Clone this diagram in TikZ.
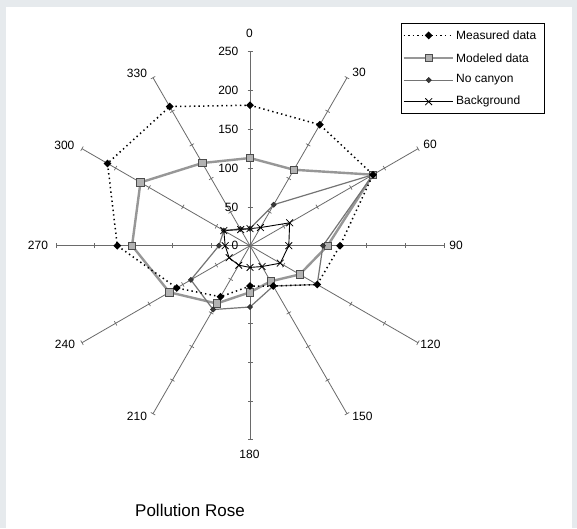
\documentclass[tikz,border=0pt]{standalone}
\usepackage{fontspec}
\setmainfont{Liberation Sans}
\usetikzlibrary{positioning,shapes.geometric,shapes.misc}
\definecolor{framegray}{HTML}{E6EAED}
\definecolor{spokegray}{HTML}{6A6A6A}
\definecolor{modgray}{HTML}{979797}
\definecolor{nocgray}{HTML}{747474}
\tikzset{
  spoke/.style={draw=spokegray, line width=0.8pt},
  tick/.style={draw=spokegray, line width=0.7pt},
  measline/.style={black, line width=1.5pt, dash pattern=on 1.4pt off 3.2pt},
  modline/.style={modgray, line width=2.4pt},
  nocline/.style={nocgray, line width=1.2pt},
  bgline/.style={black, line width=0.9pt},
  meas/.style={diamond, fill=black, inner sep=0pt, minimum size=8pt},
  modl/.style={rectangle, draw=gray!60!black, fill=gray!60, line width=0.6pt, inner sep=0pt, minimum size=7.5pt},
  noc/.style={diamond, draw=gray!30!black, fill=gray!45!black, line width=0.4pt, inner sep=0pt, minimum size=5.5pt},
  bgx/.style={cross out, draw=black, line width=0.8pt, inner sep=0pt, minimum size=6pt},
  lbl/.style={font=\fontsize{12}{14}\selectfont, inner sep=0pt},
}
\def\rs{0.776}
\begin{document}
\begin{tikzpicture}[x=1pt, y=1pt]
    \useasboundingbox (-250,-282.3) rectangle (327,245.7);
    \fill[framegray] (-250,-282.3) rectangle (327,245.7);
    \fill[white] (-244,-282.3) rectangle (321.5,238.7);

    % spokes with ticks every 50
    \coordinate (o) at (0,0);
    \foreach \a in {0,30,...,330} {
        \coordinate (end\a) at ({90-\a}:{250*\rs});
        \draw[spoke] (o) -- (end\a);
        \foreach \t in {50,100,...,250}
            \draw[tick] ({90-\a}:{\t*\rs}) ++({180-\a}:2.5) -- ++({-\a}:5);
    }

    % direction labels
    \foreach \a/\lx/\ly in {0/-0.5/212, 30/109/173, 60/180/101, 90/206/0.7, 120/180.5/-98.3, 150/112.5/-171,
                            180/-0.5/-209, 210/-113/-171, 240/-185/-98.3, 270/-212/0.7, 300/-185.6/100.2, 330/-113/172.7}
        \node[lbl] (dir\a) at (\lx,\ly) {\a};

    % radial scale
    \foreach \v in {0,50,...,250}
        \node[lbl, anchor=east] (val\v) at (-11.5,{\v*\rs}) {\v};

    % data points
    \foreach \a/\r in {0/181,30/180,60/183,90/116,120/100,150/60,180/52,210/76,240/109,270/171,300/212,330/207}
        \coordinate (me\a) at ({90-\a}:{\r*\rs});
    \foreach \a/\r in {0/113,30/113,60/183,90/100,120/74,150/53,180/60,210/86,240/120,270/152,300/163,330/123}
        \coordinate (mo\a) at ({90-\a}:{\r*\rs});
    \foreach \a/\r in {0/22,30/61,60/183,90/94,120/100,150/60,180/79,210/95,240/88,270/40,300/39,330/25}
        \coordinate (nc\a) at ({90-\a}:{\r*\rs});
    \foreach \a/\r in {0/22,30/27,60/59,90/50,120/45,150/31,180/28,210/29,240/31,270/32,300/39,330/24}
        \coordinate (bg\a) at ({90-\a}:{\r*\rs});

    \draw[modline] (mo0) \foreach \a in {30,60,...,330} { -- (mo\a) } -- cycle;
    \draw[nocline] (nc0) \foreach \a in {30,60,...,330} { -- (nc\a) } -- cycle;
    \draw[bgline] (bg0) \foreach \a in {30,60,...,330} { -- (bg\a) } -- cycle;
    \draw[measline] (me0) \foreach \a in {30,60,...,330} { -- (me\a) } -- cycle;

    \foreach \a in {0,30,...,330} {
        \node[modl] (momk\a) at (mo\a) {};
        \node[noc] (ncmk\a) at (nc\a) {};
        \node[bgx] (bgmk\a) at (bg\a) {};
        \node[meas] (memk\a) at (me\a) {};
    }

    % legend
    \node[draw, line width=0.7pt, minimum width=143pt, minimum height=90pt, anchor=north west, inner sep=0pt] (legend) at (151,222.7) {};
    \foreach \i/\y/\ln/\mk/\txt in {1/210.3/measline/meas/Measured data, 2/187.8/modline/modl/Modeled data,
                                    3/165.6/nocline/noc/No canyon, 4/144/bgline/bgx/Background} {
        \coordinate (la\i) at (153.5,\y);
        \coordinate (lb\i) at (202.5,\y);
        \draw[\ln] (la\i) -- (lb\i);
        \node[\mk] (lm\i) at (178.7,\y) {};
        \node[lbl, right=3.5pt of lb\i] (lt\i) {\txt};
    }

    \node[font=\fontsize{17}{20}\selectfont, anchor=west, inner sep=0pt] (title) at (-115,-264.3) {Pollution Rose};
\end{tikzpicture}
\end{document}
